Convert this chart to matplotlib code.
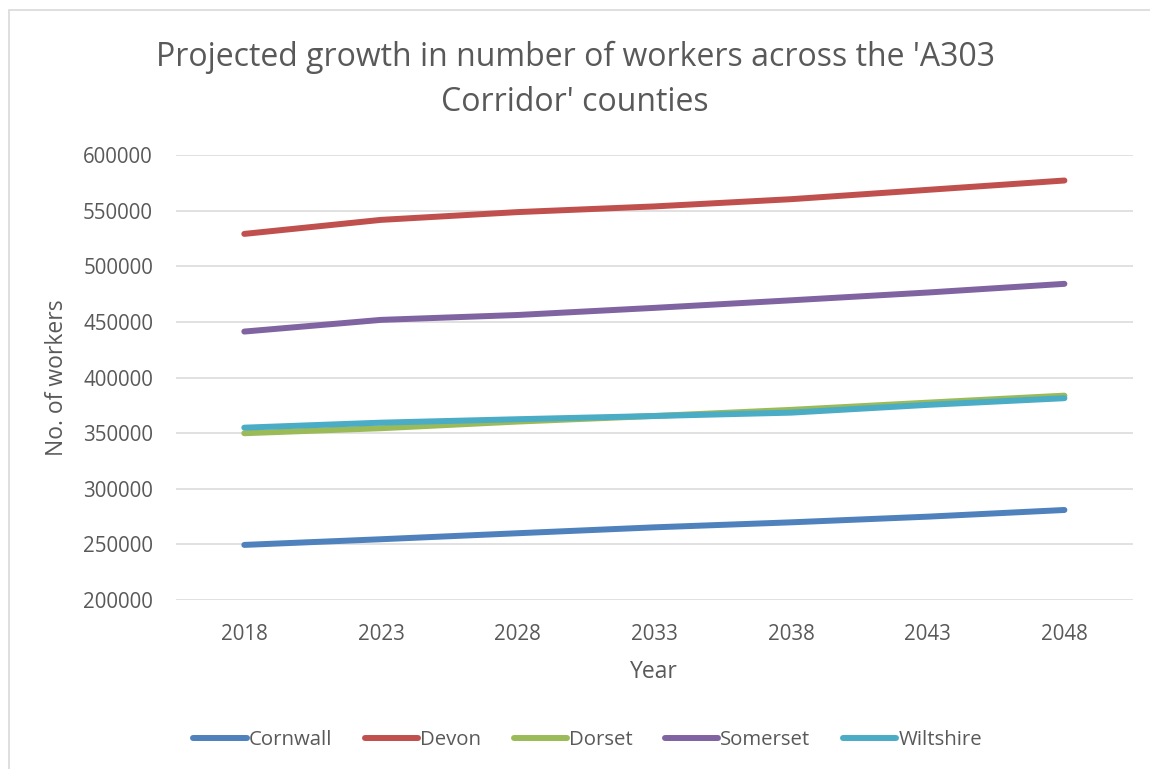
import matplotlib
matplotlib.use('Agg')
import matplotlib.pyplot as plt
from matplotlib.patches import Rectangle

years = ['2018', '2023', '2028', '2033', '2038', '2043', '2048']
counties = ['Cornwall', 'Devon', 'Dorset', 'Somerset', 'Wiltshire']
cornwall = [249500, 254600, 260000, 265300, 269800, 274900, 280900]
devon = [529100, 541700, 548700, 553800, 560300, 568700, 577100]
dorset = [349900, 354400, 360400, 365400, 370900, 377400, 383700]
somerset = [441300, 451800, 456200, 462600, 469400, 476400, 484200]
wiltshire = [354900, 359400, 362500, 365400, 368400, 375400, 381400]
colors = ['#4F81BD', '#C0504D', '#9BBB59', '#8064A2', '#4BACC6']

plt.rcParams['font.family'] = ['Open Sans', 'DejaVu Sans']
txt = '#595959'

fig = plt.figure(figsize=(11.5, 7.69), dpi=100)
# chart area border (light grey frame, runs off right/bottom edges)
fig.patches.append(Rectangle((0.008, -0.01), 1.2, 0.997, transform=fig.transFigure,
                             fill=False, edgecolor='#D9D9D9', linewidth=1.2))
ax = fig.add_axes([0.153, 0.2198, 0.832, 0.5786])

x = range(len(years))
for name, vals, c in zip(counties, [cornwall, devon, dorset, somerset, wiltshire], colors):
    ax.plot(x, vals, color=c, linewidth=4.3, solid_capstyle='round', label=name)

ax.set_xlim(-0.5, len(years) - 0.5)
ax.set_ylim(200000, 600000)
ax.set_yticks(range(200000, 600001, 50000))
ax.set_xticks(list(x))
ax.set_xticklabels(years)
ax.grid(True, axis='y', color='#D9D9D9', linewidth=1.1)
ax.set_axisbelow(True)
for s in ax.spines.values():
    s.set_visible(False)
ax.tick_params(length=0, labelsize=14.8, labelcolor=txt)
ax.tick_params(axis='y', pad=16.5)
ax.tick_params(axis='x', pad=17)

ax.set_xlabel('Year', fontsize=16.5, color=txt, labelpad=11)
ax.set_ylabel('No. of workers', fontsize=16.5, color=txt, labelpad=10)

fig.text(0.5, 0.896, "Projected growth in number of workers across the 'A303\nCorridor' counties",
         ha='center', va='center', fontsize=23, color=txt, linespacing=1.5)

fig.legend(loc='center', bbox_to_anchor=(0.511, 0.0377), ncol=5, frameon=False,
           fontsize=14.7, labelcolor=txt, handlelength=2.6, handletextpad=0.1,
           columnspacing=1.6)

fig.savefig('out.png', dpi=100, facecolor='white')
